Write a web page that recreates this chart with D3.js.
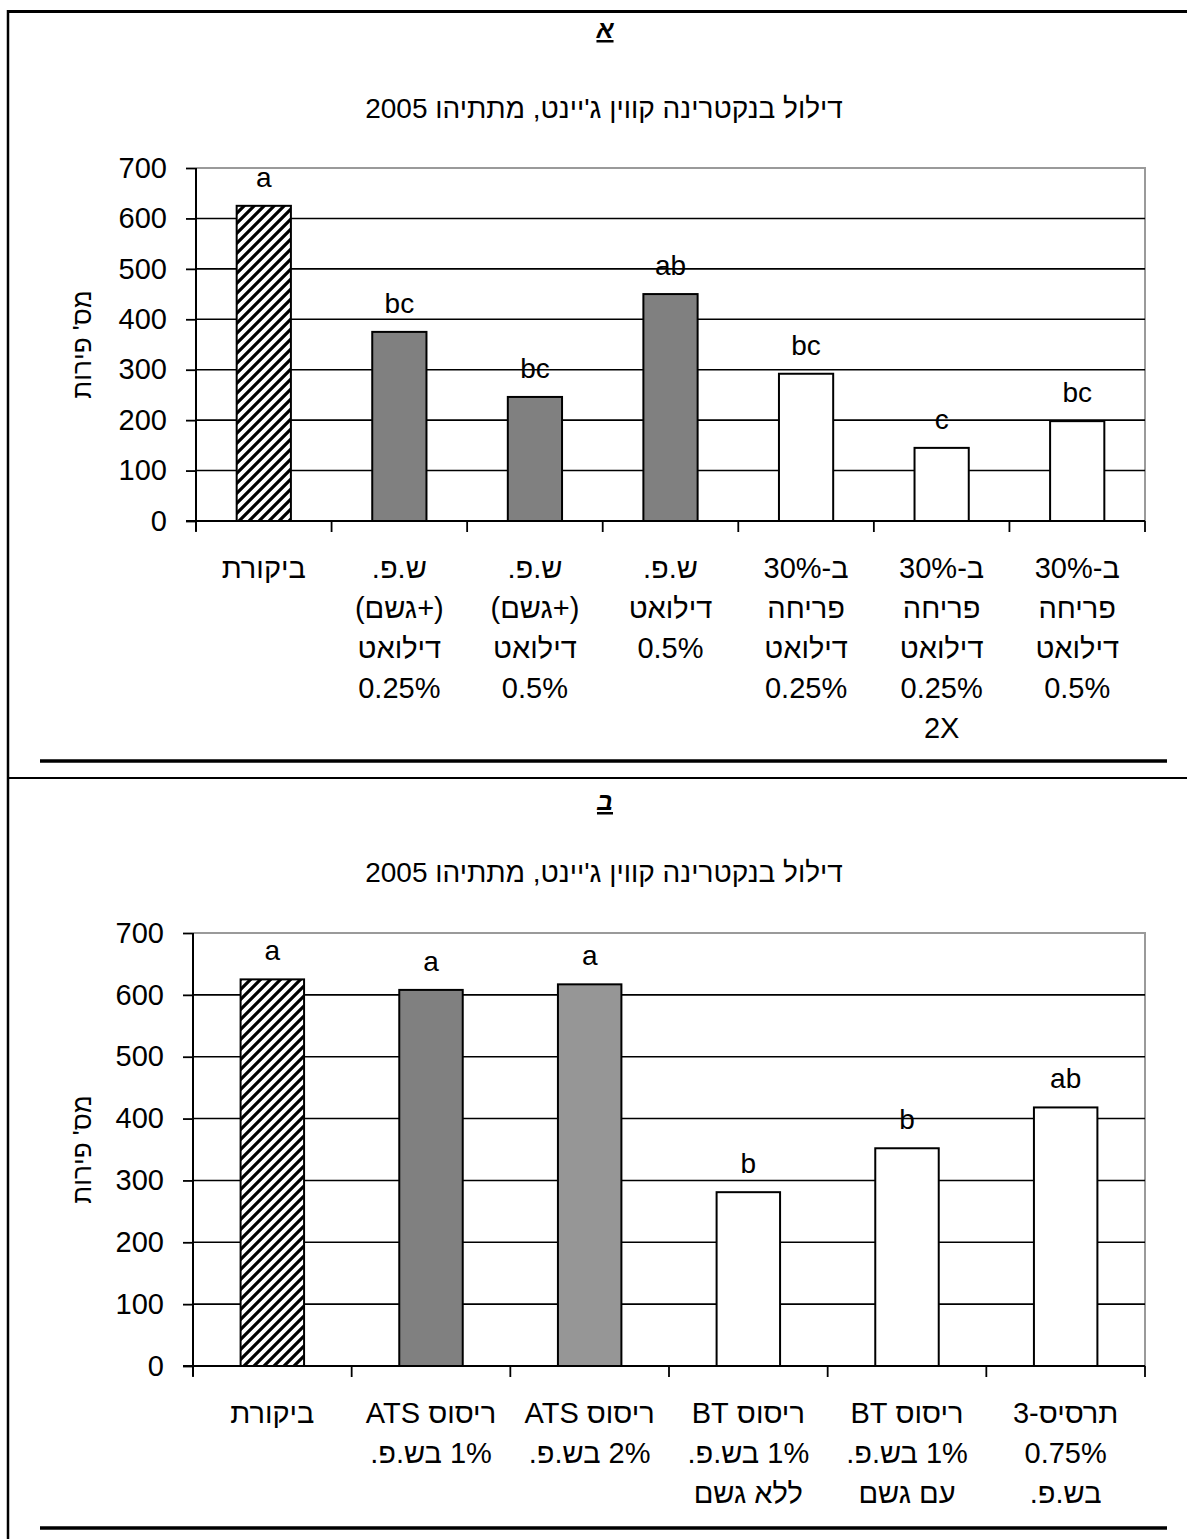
<!DOCTYPE html>
<html><head><meta charset="utf-8">
<script src="https://cdn.jsdelivr.net/npm/d3@7"></script>
<style>
body{margin:0;background:#fff}
svg{display:block}
text{font-family:"Liberation Sans",Arial,sans-serif;fill:#000}
</style>
</head><body>
<svg id="c" width="1187" height="1539"></svg>
<script>
// ---------- data ----------
const chartTitle = "דילול בנקטרינה קווין ג'יינט, מתתיהו 2005";
const yAxisLabel = "מס' פירות";
const panelLetters = ["א", "ב"];
const yTicks = [0, 100, 200, 300, 400, 500, 600, 700];

const categoriesA = [
  ["ביקורת"],
  ["ש.פ.", "(+גשם)", "דילואט", "0.25%"],
  ["ש.פ.", "(+גשם)", "דילואט", "0.5%"],
  ["ש.פ.", "דילואט", "0.5%"],
  ["ב-30%", "פריחה", "דילואט", "0.25%"],
  ["ב-30%", "פריחה", "דילואט", "0.25%", "2X"],
  ["ב-30%", "פריחה", "דילואט", "0.5%"]
];
const valuesA = [625, 375, 246, 450, 292, 145, 198];
const lettersA = ["a", "bc", "bc", "ab", "bc", "c", "bc"];

const categoriesB = [
  ["ביקורת"],
  ["ריסוס ATS", "1% בש.פ."],
  ["ריסוס ATS", "2% בש.פ."],
  ["ריסוס BT", "1% בש.פ.", "ללא גשם"],
  ["ריסוס BT", "1% בש.פ.", "עם גשם"],
  ["תרסיס-3", "0.75%", "בש.פ."]
];
const valuesB = [625, 608, 617, 281, 352, 418];
const lettersB = ["a", "a", "a", "b", "b", "ab"];

// ---------- styles ----------
const fillsA = ["url(#hatch)", "#808080", "#808080", "#808080", "#fff", "#fff", "#fff"];
const fillsB = ["url(#hatch)", "#808080", "#969696", "#fff", "#fff", "#fff"];

const svg = d3.select("#c");
const defs = svg.append("defs");
const pat = defs.append("pattern").attr("id", "hatch")
  .attr("patternUnits", "userSpaceOnUse").attr("width", 10).attr("height", 10);
pat.append("rect").attr("width", 10).attr("height", 10).attr("fill", "#fff");
pat.append("path").attr("d", "M-2,12 L12,-2 M-7,7 L7,-7 M3,17 L17,3")
  .attr("stroke", "#000").attr("stroke-width", 3.2);

// page frame lines
svg.append("line").attr("x1", 7).attr("x2", 1187).attr("y1", 11.5).attr("y2", 11.5).attr("stroke", "#000").attr("stroke-width", 3);
svg.append("line").attr("x1", 8).attr("x2", 8).attr("y1", 10).attr("y2", 1539).attr("stroke", "#000").attr("stroke-width", 2.5);
svg.append("line").attr("x1", 40).attr("x2", 1167).attr("y1", 761).attr("y2", 761).attr("stroke", "#000").attr("stroke-width", 3.5);
svg.append("line").attr("x1", 7).attr("x2", 1187).attr("y1", 778).attr("y2", 778).attr("stroke", "#000").attr("stroke-width", 2);
svg.append("line").attr("x1", 40).attr("x2", 1167).attr("y1", 1528).attr("y2", 1528).attr("stroke", "#000").attr("stroke-width", 3.5);

function drawPanel(o) {
  const g = svg.append("g");
  const n = o.values.length;
  const x = d3.scaleBand().domain(d3.range(n)).range([o.left, o.right]).paddingInner(0.6).paddingOuter(0.3);
  const y = d3.scaleLinear().domain([0, 700]).range([o.bottom, o.top]);
  const bound = i => x(0) - x.step() * x.paddingOuter() + i * x.step();

  // panel letter
  g.append("text").attr("x", 605).attr("y", o.letterY).attr("text-anchor", "middle")
    .attr("font-size", 25).attr("font-weight", "bold").attr("font-style", "italic")
    .attr("text-decoration", "underline").text(o.letter);
  // title
  g.append("text").attr("x", 604).attr("y", o.titleY).attr("text-anchor", "middle")
    .attr("direction", "rtl").attr("font-size", 28).text(chartTitle);

  // plot border (top/right gray)
  g.append("path").attr("d", `M${o.left},${y(700)}H${o.right}V${o.bottom}`)
    .attr("fill", "none").attr("stroke", "#9a9a9a").attr("stroke-width", 2);
  // gridlines
  g.selectAll(".grid").data(yTicks.filter(v => v > 0 && v < 700)).enter().append("line")
    .attr("x1", o.left).attr("x2", o.right).attr("y1", d => y(d)).attr("y2", d => y(d))
    .attr("stroke", "#000").attr("stroke-width", 1.6);

  // bars
  g.selectAll(".bar").data(o.values).enter().append("rect")
    .attr("x", (d, i) => x(i)).attr("width", x.bandwidth())
    .attr("y", d => y(d)).attr("height", d => y(0) - y(d))
    .attr("fill", (d, i) => o.fills[i]).attr("stroke", "#000").attr("stroke-width", 2);

  // letters above bars
  g.selectAll(".lt").data(o.values).enter().append("text")
    .attr("x", (d, i) => x(i) + x.bandwidth() / 2).attr("y", d => y(d) - 19)
    .attr("text-anchor", "middle").attr("font-size", 28).text((d, i) => o.letters[i]);

  // y axis
  const ya = g.append("g").attr("transform", `translate(${o.left},0)`)
    .call(d3.axisLeft(y).tickValues(yTicks).tickSize(10).tickPadding(19).tickFormat(d3.format("d")));
  ya.select(".domain").attr("stroke", "#000").attr("stroke-width", 2).attr("d", `M0,${y(700)}V${o.bottom + 10}`);
  ya.selectAll(".tick line").attr("stroke", "#000").attr("stroke-width", 1.8);
  ya.selectAll(".tick text").attr("font-size", 29).attr("font-family", "Liberation Sans, Arial, sans-serif").attr("fill", "#000");

  // x axis line + ticks at category boundaries
  g.append("line").attr("x1", o.left - 10).attr("x2", o.right).attr("y1", o.bottom).attr("y2", o.bottom)
    .attr("stroke", "#000").attr("stroke-width", 2);
  g.selectAll(".xt").data(d3.range(n + 1)).enter().append("line")
    .attr("x1", d => bound(d)).attr("x2", d => bound(d)).attr("y1", o.bottom).attr("y2", o.bottom + 11)
    .attr("stroke", "#000").attr("stroke-width", 1.8);

  // category labels
  o.categories.forEach((lines, i) => {
    const t = g.append("text").attr("text-anchor", "middle").attr("font-size", 29).attr("direction", "rtl");
    lines.forEach((ln, j) => {
      t.append("tspan").attr("x", x(i) + x.bandwidth() / 2).attr("y", o.bottom + 57 + j * 40)
        .attr("direction", "rtl").text(ln);
    });
  });

  // y axis label
  g.append("text").attr("transform", `translate(${o.ylabX},${(o.top + o.bottom) / 2}) rotate(-90)`)
    .attr("text-anchor", "middle").attr("direction", "rtl").attr("font-size", 26).text(yAxisLabel);
}

drawPanel({letter: panelLetters[0], letterY: 38, titleY: 118, top: 168, bottom: 521, left: 196, right: 1145,
  values: valuesA, letters: lettersA, categories: categoriesA, fills: fillsA, ylabX: 91});
drawPanel({letter: panelLetters[1], letterY: 810, titleY: 882, top: 933, bottom: 1366, left: 193, right: 1145,
  values: valuesB, letters: lettersB, categories: categoriesB, fills: fillsB, ylabX: 91});
</script>
</body></html>
